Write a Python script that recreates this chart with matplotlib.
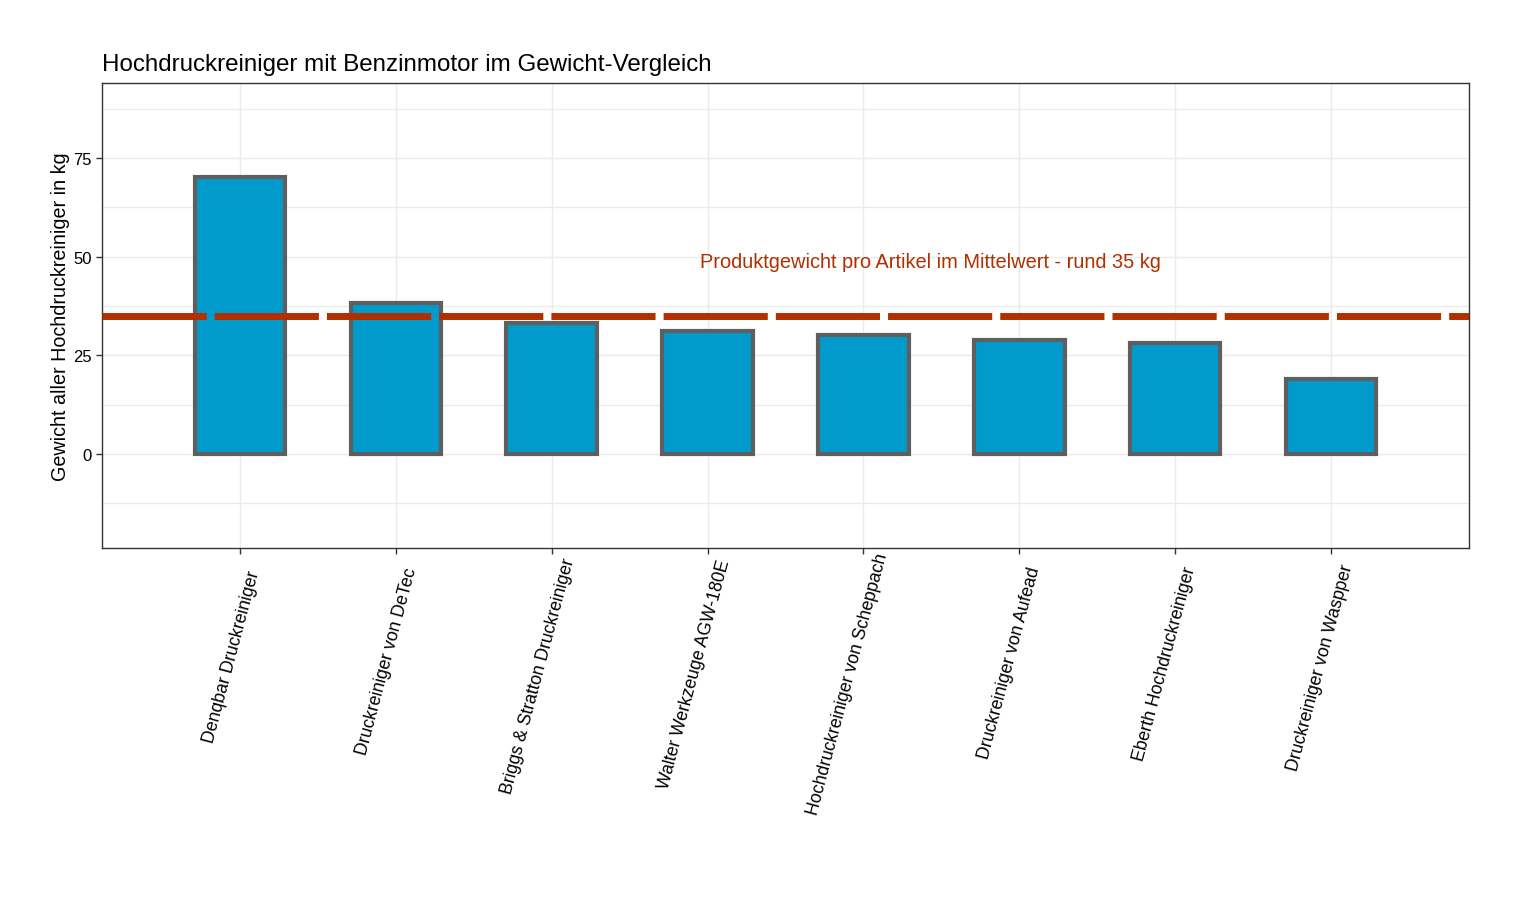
import numpy as np
import matplotlib
matplotlib.use("Agg")
import matplotlib.pyplot as plt
from matplotlib.transforms import ScaledTranslation

# values
produkte = [
    "Denqbar Druckreiniger",
    "Druckreiniger von DeTec",
    "Briggs & Stratton Druckreiniger",
    "Walter Werkzeuge AGW-180E",
    "Hochdruckreiniger von Scheppach",
    "Druckreiniger von Aufead",
    "Eberth Hochdruckreiniger",
    "Druckreiniger von Waspper",
]
gewicht_kg = [70.2, 38.3, 33.2, 31.2, 30.1, 28.9, 28.1, 19.1]
mittelwert_kg = 35
y_ticks = [0, 25, 50, 75]

plt.rcParams['font.family'] = ['Liberation Sans', 'DejaVu Sans']

fig = plt.figure(figsize=(15.2, 9.03), dpi=100)
ax = fig.add_axes([102 / 1520, 1 - 549 / 903, (1469 - 102) / 1520, (549 - 84) / 903])

x = np.arange(1, len(produkte) + 1)
ax.bar(x, gewicht_kg, width=0.58, color='#009ACD', edgecolor='#5F5F5F',
       linewidth=3.0, zorder=3)

lw = 5.0
ax.axhline(mittelwert_kg, color='#B03000', linewidth=lw,
           linestyle=(0, (75 / lw, 5.8 / lw)), zorder=4)
ax.text(5.43, 48.9, "Produktgewicht pro Artikel im Mittelwert - rund 35 kg",
        color='#B03000', fontsize=14.4, ha='center', va='center', zorder=5)

ax.set_xlim(0.115, 8.885)
ax.set_ylim(-23.8, 94.0)
ax.set_yticks(y_ticks)
ax.set_yticks([-12.5, 12.5, 37.5, 62.5, 87.5], minor=True)
ax.set_xticks(x)
ax.set_xticklabels([])

# slanted category labels: anchored at ~80% of their length, ~57px below the axis
# (this is how the ggplot original lines them up)
angle = np.deg2rad(75)
renderer = fig.canvas.get_renderer()
for xi, name in zip(x, produkte):
    t = ax.text(xi, 0, name, transform=ax.get_xaxis_transform(), fontsize=12.7,
                ha='center', va='center', clip_on=False)
    w = t.get_window_extent(renderer).width
    d = -0.3 * w
    dx = 5.5 + d * np.cos(angle)
    dy = -57 + d * np.sin(angle)
    t.set_rotation(75)
    t.set_rotation_mode('anchor')
    t.set_transform(ax.get_xaxis_transform()
                    + ScaledTranslation(dx / 100, dy / 100, fig.dpi_scale_trans))

ax.tick_params(axis='y', labelsize=12, colors='#333333', labelcolor='black')
ax.tick_params(axis='x', colors='#333333')
ax.tick_params(which='major', length=4, width=1)
ax.tick_params(which='minor', length=0)

ax.grid(True, which='both', color='#EBEBEB', linewidth=1.0, zorder=0)
for s in ax.spines.values():
    s.set_color('#333333')
    s.set_linewidth(1.0)

ax.set_ylabel("Gewicht aller Hochdruckreiniger in kg", fontsize=14.2, labelpad=2)
ax.set_title("Hochdruckreiniger mit Benzinmotor im Gewicht-Vergleich",
             loc='left', fontsize=17.4, pad=9)

fig.savefig("out.png", dpi=100)
